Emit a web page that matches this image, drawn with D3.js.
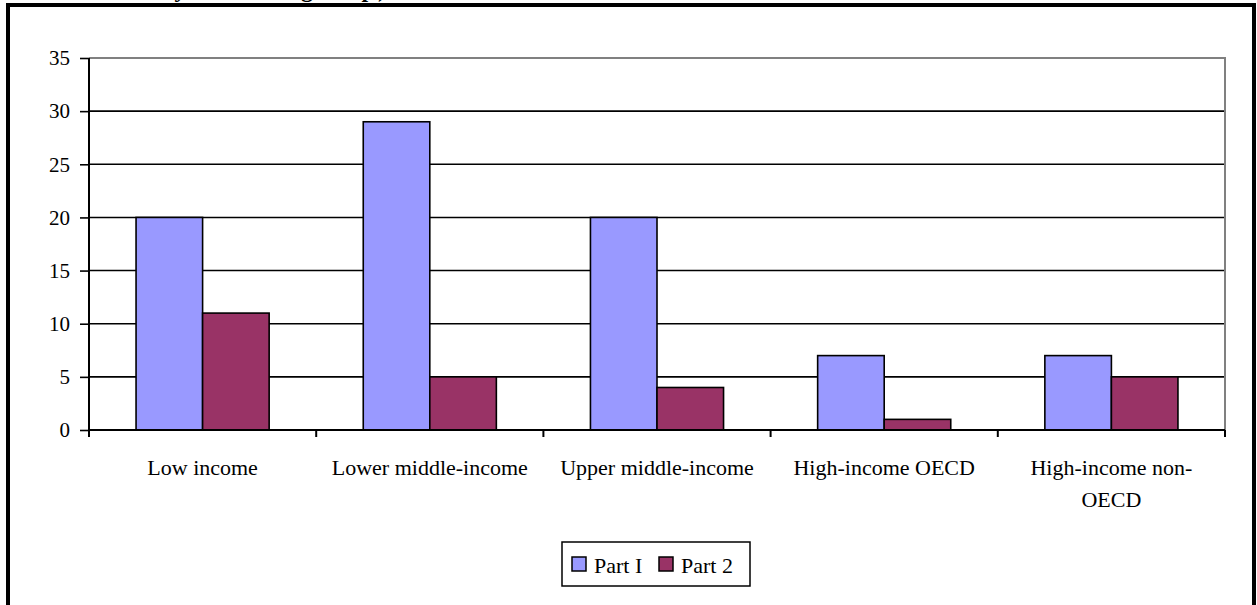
<!DOCTYPE html>
<html>
<head>
<meta charset="utf-8">
<script src="https://cdn.jsdelivr.net/npm/d3@7"></script>
<style>
  html, body { margin: 0; padding: 0; background: #fff; }
  svg { display: block; }
  text { font-family: "Liberation Serif", "Times New Roman", serif; fill: #000; }
</style>
</head>
<body>
<svg id="chart" width="1257" height="605"></svg>
<script>
// Income groups along the x axis
const categories = ["Low income", "Lower middle-income", "Upper middle-income", "High-income OECD", "High-income non-OECD"];
// Label lines for each category (the last one wraps)
const categoryLines = [["Low income"], ["Lower middle-income"], ["Upper middle-income"], ["High-income OECD"], ["High-income non-", "OECD"]];
const seriesNames = ["Part I", "Part 2"];
const partOne = [20, 29, 20, 7, 7];
const partTwo = [11, 5, 4, 1, 5];
const yTicks = [0, 5, 10, 15, 20, 25, 30, 35];
const seriesColors = ["#9999FF", "#993366"];

const svg = d3.select("#chart");

// Outer frame of the figure
svg.append("rect").attr("x", 8).attr("y", 5).attr("width", 1246).attr("height", 640)
  .attr("fill", "none").attr("stroke", "#000").attr("stroke-width", 4);
svg.append("line").attr("x1", 1255).attr("x2", 1255).attr("y1", 3).attr("y2", 605)
  .attr("stroke", "#000").attr("stroke-width", 2);

// Caption running off the top edge
svg.append("text").attr("x", 158).attr("y", -3)
  .attr("textLength", 228).attr("lengthAdjust", "spacing")
  .style("font-size", "24px").style("font-weight", "bold").text("by income group)");

const plot = { left: 89, right: 1225, top: 58, bottom: 430 };

const x0 = d3.scaleBand().domain(categories).range([plot.left, plot.right]).paddingInner(0).paddingOuter(0);
const x1 = d3.scaleBand().domain(seriesNames).range([0, x0.bandwidth()]).paddingInner(0).paddingOuter(0.707);
const y = d3.scaleLinear().domain([0, 35]).range([plot.bottom, plot.top]);

// Horizontal gridlines
svg.append("g").selectAll("line").data(yTicks.filter(t => t > 0 && t < 35)).join("line")
  .attr("x1", plot.left).attr("x2", plot.right)
  .attr("y1", d => y(d)).attr("y2", d => y(d))
  .attr("stroke", "#000").attr("stroke-width", 1.6);

// Plot area border (top and right)
svg.append("path")
  .attr("d", `M${plot.left},${y(35)}H${plot.right}V${plot.bottom}`)
  .attr("fill", "none").attr("stroke", "#808080").attr("stroke-width", 2);

// Bars
const rows = categories.map((c, i) => ({ cat: c, vals: [partOne[i], partTwo[i]] }));
const groups = svg.append("g").selectAll("g").data(rows).join("g")
  .attr("transform", d => `translate(${x0(d.cat)},0)`);
groups.selectAll("rect").data(d => d.vals.map((v, j) => ({ s: seriesNames[j], v, j }))).join("rect")
  .attr("x", d => x1(d.s)).attr("width", x1.bandwidth())
  .attr("y", d => y(d.v)).attr("height", d => y(0) - y(d.v))
  .attr("fill", d => seriesColors[d.j]).attr("stroke", "#000").attr("stroke-width", 1.6);

// Y axis
const yAxis = d3.axisLeft(y).tickValues(yTicks).tickSize(9).tickPadding(10).tickFormat(d3.format("d"));
const gy = svg.append("g").attr("transform", `translate(${plot.left},0)`).call(yAxis);
gy.select(".domain").attr("stroke", "#000").attr("stroke-width", 2).attr("d", `M0,${plot.top}V${plot.bottom}`);
gy.selectAll(".tick line").attr("stroke", "#000").attr("stroke-width", 1.6);
gy.selectAll(".tick text").style("font-size", "21px").attr("font-family", null);

// X axis with ticks between categories
const boundaries = categories.map(c => x0(c)).concat([plot.right]);
svg.append("line").attr("x1", plot.left).attr("x2", plot.right).attr("y1", y(0)).attr("y2", y(0))
  .attr("stroke", "#000").attr("stroke-width", 2);
svg.append("g").selectAll("line").data(boundaries).join("line")
  .attr("x1", d => d).attr("x2", d => d).attr("y1", y(0)).attr("y2", y(0) + 7)
  .attr("stroke", "#000").attr("stroke-width", 2);

// Category labels
const labels = svg.append("g").selectAll("text").data(categories).join("text")
  .attr("text-anchor", "middle").style("font-size", "22px")
  .attr("transform", d => `translate(${x0(d) + x0.bandwidth() / 2},475)`);
labels.selectAll("tspan").data((d, i) => categoryLines[i]).join("tspan")
  .attr("x", 0).attr("y", (d, i) => i * 32).text(d => d);

// Legend
const legend = svg.append("g");
legend.append("rect").attr("x", 562).attr("y", 542).attr("width", 188).attr("height", 44)
  .attr("fill", "#fff").attr("stroke", "#000").attr("stroke-width", 1.5);
const legendX = [572, 659];
seriesNames.forEach((name, j) => {
  legend.append("rect").attr("x", legendX[j]).attr("y", 557).attr("width", 14).attr("height", 14)
    .attr("fill", seriesColors[j]).attr("stroke", "#000").attr("stroke-width", 1.5);
  legend.append("text").attr("x", legendX[j] + 22).attr("y", 573).style("font-size", "22px").text(name);
});
</script>
</body>
</html>
